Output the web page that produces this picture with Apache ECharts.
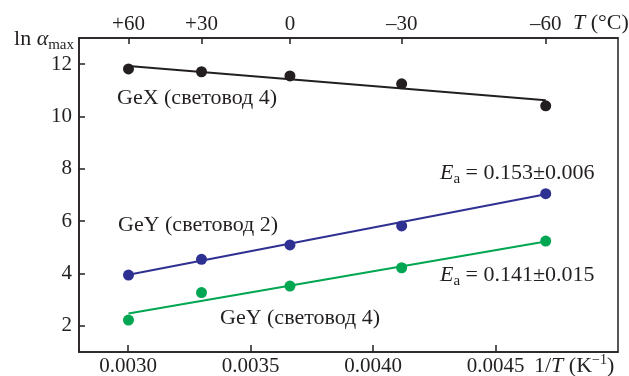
<!DOCTYPE html>
<html>
<head>
<meta charset="utf-8">
<script src="https://cdn.jsdelivr.net/npm/echarts@6/dist/echarts.min.js"></script>
<style>html,body{margin:0;padding:0;background:#fff;}#c{width:629px;height:376px;}</style>
</head>
<body>
<div id="c"></div>
<script>
// Temperatures (°C) of the measurements -> top axis labels
const topLabels = ['+60', '+30', '0', '–30', '–60'];
const invT = [0.003002, 0.003300, 0.003661, 0.004117, 0.004705];
const bottomTicks = [0.0030, 0.0035, 0.0040, 0.0045];
const yTicks = [2, 4, 6, 8, 10, 12];

// ln alpha_max values
const geX4 = [11.82, 11.71, 11.55, 11.25, 10.41];
const geY2 = [3.94, 4.54, 5.09, 5.82, 7.05];
const geY4 = [2.22, 3.27, 3.52, 4.22, 5.24];

// fitted lines (values at first and last x)
const fitGeX4 = [11.93, 10.62];
const fitGeY2 = [3.95, 7.03];
const fitGeY4 = [2.47, 5.22];

const C_BLACK = '#231f20', C_BLUE = '#2e3192', C_GREEN = '#00a651';
const FONT = '"Liberation Serif", "Times New Roman", serif';

const pts = arr => invT.map((x, i) => [x, arr[i]]);
const fit = arr => [[invT[0], arr[0]], [invT[invT.length - 1], arr[1]]];

const chart = echarts.init(document.getElementById('c'), null, {renderer: 'canvas'});

function scatter(data, color) {
  return {type: 'scatter', data: pts(data), symbol: 'circle', symbolSize: 11,
    itemStyle: {color: color, opacity: 1}, z: 3, silent: true};
}
function fitLine(data, color) {
  return {type: 'line', data: fit(data), showSymbol: false, symbol: 'none',
    lineStyle: {color: color, width: 2}, z: 2, silent: true};
}

const labelCommon = {color: C_BLACK, fontFamily: FONT, fontSize: 21};
const FS = 22;
const rich = {
  n: {fontFamily: FONT, fontSize: FS, color: C_BLACK},
  i: {fontFamily: FONT, fontSize: FS, fontStyle: 'italic', color: C_BLACK},
  sub: {fontFamily: FONT, fontSize: 15, color: C_BLACK, padding: [13, 0, 0, 0]},
  sup: {fontFamily: FONT, fontSize: 14, color: C_BLACK, padding: [0, 0, 11, 0]}
};

function txt(x, y, text, align) {
  return {type: 'text', x: x, y: y, silent: true,
    style: {text: text, rich: rich, fill: C_BLACK, align: align || 'left', verticalAlign: 'middle',
      font: FS + 'px ' + FONT}};
}

chart.setOption({
  animation: false,
  backgroundColor: '#fff',
  grid: {left: 79, right: 11, top: 38, bottom: 24, show: true, borderColor: C_BLACK, borderWidth: 1.5,
    containLabel: false, outerBoundsMode: 'none'},
  xAxis: [{
    type: 'value', position: 'bottom', min: 0.0028, max: 0.0050,
    axisLine: {show: true, lineStyle: {color: C_BLACK, width: 1.5}},
    axisTick: {show: true, inside: true, length: 7, customValues: bottomTicks, lineStyle: {color: C_BLACK, width: 1.5}},
    axisLabel: Object.assign({customValues: bottomTicks, margin: 4, formatter: v => v.toFixed(4)}, labelCommon),
    splitLine: {show: false}
  }, {
    type: 'value', position: 'top', min: 0.0028, max: 0.0050,
    axisLine: {show: true, lineStyle: {color: C_BLACK, width: 1.5}},
    axisTick: {show: true, inside: true, length: 6, customValues: invT, lineStyle: {color: C_BLACK, width: 1.5}},
    axisLabel: Object.assign({customValues: invT, margin: 3, formatter: v => {
      let best = 0, d = Infinity;
      invT.forEach((x, i) => { const dd = Math.abs(x - v); if (dd < d) { d = dd; best = i; } });
      return topLabels[best];
    }}, labelCommon),
    splitLine: {show: false}
  }],
  yAxis: [{
    type: 'value', min: 1, max: 13,
    axisLine: {show: true, lineStyle: {color: C_BLACK, width: 1.5}},
    axisTick: {show: true, inside: true, length: 6, customValues: yTicks, lineStyle: {color: C_BLACK, width: 1.5}},
    axisLabel: Object.assign({customValues: yTicks, margin: 7}, labelCommon),
    splitLine: {show: false}
  }],
  series: [
    fitLine(fitGeX4, C_BLACK), scatter(geX4, C_BLACK),
    fitLine(fitGeY2, C_BLUE), scatter(geY2, C_BLUE),
    fitLine(fitGeY4, C_GREEN), scatter(geY4, C_GREEN)
  ],
  graphic: [
    txt(74, 39, '{n|ln }{i|α}{sub|max}', 'right'),
    txt(573, 23, '{i|T}{n| (°C)}'),
    txt(534, 366, '{n|1/}{i|T}{n| (K}{sup|−1}{n|)}'),
    txt(117, 98, '{n|GeX (световод 4)}'),
    txt(118, 225, '{n|GeY (световод 2)}'),
    txt(220, 318, '{n|GeY (световод 4)}'),
    txt(440, 173, '{i|E}{sub|a}{n| = 0.153±0.006}'),
    txt(440, 275, '{i|E}{sub|a}{n| = 0.141±0.015}')
  ]
});
</script>
</body>
</html>
